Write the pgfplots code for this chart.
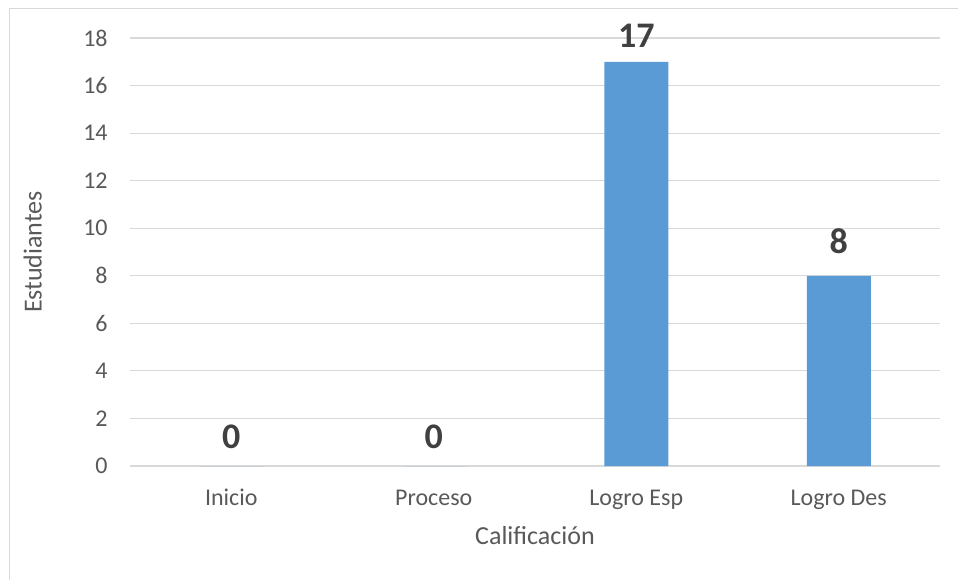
\documentclass[border=0pt]{standalone}
\usepackage{pgfplots}
\pgfplotsset{compat=1.18}
\usepackage{fontspec}
\setmainfont{Carlito}
\definecolor{barblue}{HTML}{5B9BD5}
\definecolor{tickgray}{HTML}{595959}
\definecolor{labgray}{HTML}{404040}
\definecolor{gridgray}{HTML}{D9D9D9}
\begin{document}
\begin{tikzpicture}
\useasboundingbox (0,0) rectangle (479pt,289.5pt);
\draw[gridgray, line width=0.75pt] (4.75pt,-10pt) rectangle (500pt,285.25pt);
\begin{axis}[
  at={(65pt,56.5pt)}, anchor=south west,
  width=405pt, height=214pt, scale only axis,
  xmin=-0.5, xmax=3.5, ymin=0, ymax=18,
  xtick={0,1,2,3},
  xticklabels={Inicio,Proceso,Logro Esp,Logro Des},
  ytick={0,2,...,18},
  axis line style={draw=none},
  tick style={draw=none},
  ymajorgrids,
  major grid style={color=gridgray, line width=0.6pt},
  /pgf/number format/assume math mode=true,
  ticklabel style={font=\fontsize{12}{14}\selectfont, text=tickgray},
  xticklabel style={anchor=base, inner sep=0pt, yshift=-19.5pt},
  yticklabel style={anchor=east, inner sep=0pt, xshift=-11pt},
  label style={font=\fontsize{13}{15}\selectfont, text=tickgray},
  xlabel={Calificación},
  ylabel={Estudiantes},
  xlabel style={at={(axis description cs:0.5,-0.1636)}, anchor=center},
  ylabel style={at={(axis description cs:-0.12,0.5)}, anchor=center, rotate=0},
  clip=false,
]
\addplot[ybar, bar width=32pt, fill=barblue, draw=none] coordinates {(0,0) (1,0) (2,17) (3,8)};
\node[anchor=base, font=\bfseries\fontsize{18}{20}\selectfont, text=labgray, yshift=9pt] at (axis cs:0,0) {0};
\node[anchor=base, font=\bfseries\fontsize{18}{20}\selectfont, text=labgray, yshift=9pt] at (axis cs:1,0) {0};
\node[anchor=base, font=\bfseries\fontsize{18}{20}\selectfont, text=labgray, yshift=7pt] at (axis cs:2,17) {17};
\node[anchor=base, font=\bfseries\fontsize{18}{20}\selectfont, text=labgray, yshift=11pt] at (axis cs:3,8) {8};
\end{axis}
\end{tikzpicture}
\end{document}
